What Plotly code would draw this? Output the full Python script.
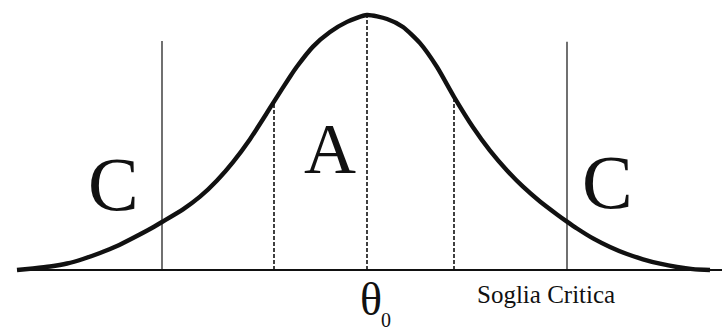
import plotly.graph_objects as go

# Bell-shaped sampling distribution of the test statistic (z units, density)
curve_z = [-3.50, -3.34, -3.17, -3.00, -2.84, -2.67, -2.50, -2.34, -2.17, -2.05,
           -1.84, -1.67, -1.50, -1.34, -1.17, -1.00, -0.93, -0.77, -0.70, -0.54,
           -0.37, -0.20, 0.00, 0.20, 0.36, 0.53, 0.70, 0.87, 1.06, 1.23,
           1.40, 1.56, 1.73, 1.90, 2.00, 2.10, 2.26, 2.43, 2.60, 2.76,
           2.93, 3.10, 3.26, 3.43]
curve_density = [0.0000, 0.0024, 0.0055, 0.0102, 0.0173, 0.0267, 0.0376, 0.0502, 0.0643, 0.0753,
                 0.0951, 0.1150, 0.1404, 0.1693, 0.2052, 0.2466, 0.2642, 0.3031, 0.3191, 0.3504,
                 0.3732, 0.3892, 0.4000, 0.3937, 0.3812, 0.3558, 0.3184, 0.2717, 0.2240, 0.1873,
                 0.1562, 0.1307, 0.1075, 0.0872, 0.0759, 0.0651, 0.0496, 0.0362, 0.0251, 0.0168,
                 0.0099, 0.0047, 0.0014, 0.0000]

# Critical thresholds (solid lines) and their drawn heights
critical_z = [-2.05, 2.00]
critical_top = [0.359, 0.358]

# Dashed reference lines under the curve (acceptance region A, centre theta_0)
dashed_z = [-0.93, 0.00, 0.87]
dashed_top = [0.2642, 0.4000, 0.2717]

# Baseline extent
base_z = [-3.50, 3.60]

region_labels = ["C", "A", "C"]
region_z = [-2.54, -0.37, 2.40]
region_y = [0.135, 0.190, 0.138]
region_size = [76, 72, 76]

X_RANGE = [-3.67, 3.55]
Y_RANGE = [-0.0988, 0.4235]

INK = "#111111"
SERIF = "Liberation Serif, Times New Roman, serif"

fig = go.Figure()

# baseline
fig.add_trace(go.Scatter(x=base_z, y=[0, 0], mode="lines",
                         line=dict(color=INK, width=1.8), hoverinfo="skip"))

# critical threshold lines
for z, top in zip(critical_z, critical_top):
    fig.add_trace(go.Scatter(x=[z, z], y=[0, top], mode="lines",
                             line=dict(color=INK, width=1.2), hoverinfo="skip"))

# dashed lines
for z, top in zip(dashed_z, dashed_top):
    fig.add_trace(go.Scatter(x=[z, z], y=[0, top], mode="lines",
                             line=dict(color=INK, width=1.6, dash="4px,2px"),
                             hoverinfo="skip"))

# the bell curve
fig.add_trace(go.Scatter(x=curve_z, y=curve_density, mode="lines",
                         line=dict(color=INK, width=4.4, shape="spline", smoothing=0.6),
                         hoverinfo="skip"))

annotations = []
for label, z, y, size in zip(region_labels, region_z, region_y, region_size):
    annotations.append(dict(x=z, y=y, text=label, showarrow=False,
                            xanchor="center", yanchor="middle",
                            font=dict(family=SERIF, size=size, color=INK)))

annotations.append(dict(x=0.04, y=-0.047, text="θ", showarrow=False,
                        xanchor="center", yanchor="middle",
                        font=dict(family=SERIF, size=46, color=INK)))
annotations.append(dict(x=0.19, y=Y_RANGE[0], text="0", showarrow=False,
                        xanchor="center", yanchor="bottom",
                        font=dict(family=SERIF, size=20, color=INK)))
annotations.append(dict(x=1.79, y=-0.038, text="Soglia Critica", showarrow=False,
                        xanchor="center", yanchor="middle",
                        font=dict(family=SERIF, size=25, color=INK)))

fig.update_layout(
    width=722, height=333,
    margin=dict(l=0, r=0, t=0, b=0),
    paper_bgcolor="white", plot_bgcolor="white",
    showlegend=False,
    annotations=annotations,
    xaxis=dict(range=X_RANGE, visible=False, fixedrange=True),
    yaxis=dict(range=Y_RANGE, visible=False, fixedrange=True),
)

fig.write_html("out.html")
